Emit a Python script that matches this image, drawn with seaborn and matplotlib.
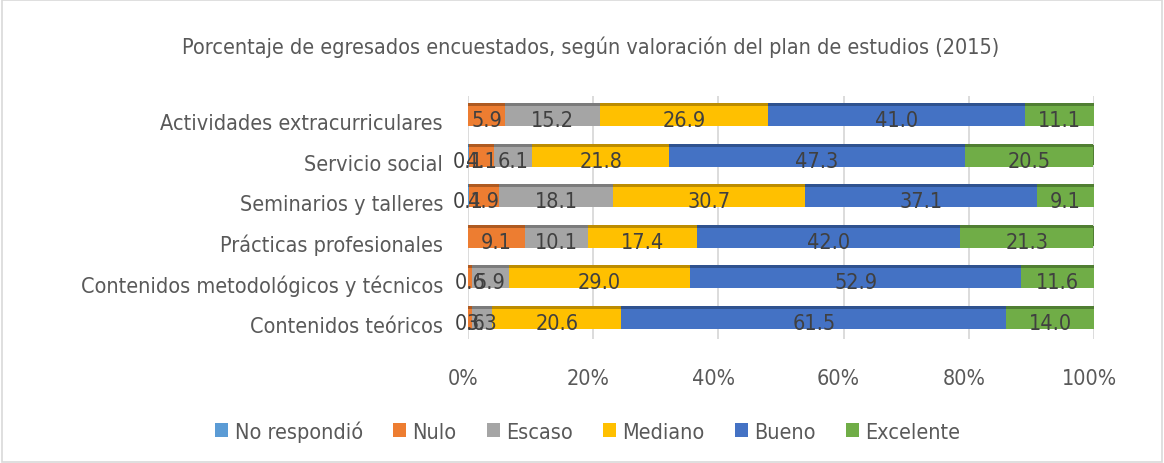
import numpy as np
import pandas as pd
import matplotlib
matplotlib.use("Agg")
import matplotlib.pyplot as plt
import seaborn as sns
from matplotlib import font_manager
from matplotlib.patches import Patch
from matplotlib.transforms import ScaledTranslation

categories = ["Actividades extracurriculares", "Servicio social", "Seminarios y talleres",
              "Prácticas profesionales", "Contenidos metodológicos y técnicos", "Contenidos teóricos"]
series_names = ["No respondió", "Nulo", "Escaso", "Mediano", "Bueno", "Excelente"]
no_respondio = [0.0, 0.1, 0.1, 0.0, 0.0, 0.0]
nulo = [5.9, 4.1, 4.9, 9.1, 0.6, 0.6]
escaso = [15.2, 6.1, 18.1, 10.1, 5.9, 3.3]
mediano = [26.9, 21.8, 30.7, 17.4, 29.0, 20.6]
bueno = [41.0, 47.3, 37.1, 42.0, 52.9, 61.5]
excelente = [11.1, 20.5, 9.1, 21.3, 11.6, 14.0]
colors = ["#5B9BD5", "#ED7D31", "#A5A5A5", "#FFC000", "#4472C4", "#70AD47"]
dark_colors = ["#41719C", "#AE5A21", "#7B7B7B", "#BC8C00", "#2F528F", "#507E32"]
xticks = [0, 20, 40, 60, 80, 100]
xtick_labels = ["0%", "20%", "40%", "60%", "80%", "100%"]
title = "Porcentaje de egresados encuestados, según valoración del plan de estudios (2015)"

sns.set_theme(style="white")

# look for a narrow/condensed sans font
fprop = None
fs = 15.5
for f in font_manager.fontManager.ttflist:
    fn = f.fname.lower()
    if ("narrow" in fn and "liberation" in fn and "bold" not in fn and "italic" not in fn):
        fprop = font_manager.FontProperties(fname=f.fname)
        fs = 17
        break
if fprop is None:
    for f in font_manager.fontManager.ttflist:
        fn = f.fname.lower()
        if ("condensed" in fn and "bold" not in fn and "oblique" not in fn
                and "italic" not in fn and ("roboto" in fn or "dejavusans" in fn)):
            fprop = font_manager.FontProperties(fname=f.fname)
            fs = 15.5
            break
if fprop is None:
    fprop = font_manager.FontProperties(family="Liberation Sans")
    fs = 15.5
plt.rcParams["font.family"] = [fprop.get_name(), "DejaVu Sans"]

series = [no_respondio, nulo, escaso, mediano, bueno, excelente]
vals = np.array(series)
cum = np.cumsum(vals, axis=0)
left = cum - vals

fig = plt.figure(figsize=(11.64, 4.64), dpi=100)
ax = fig.add_axes([468 / 1164, 1 - 340 / 464, (1094 - 468) / 1164, (340 - 97) / 464])

for i in reversed(range(len(series))):
    df = pd.DataFrame({"cat": categories, "val": cum[i]})
    sns.barplot(data=df, x="val", y="cat", orient="h", color=colors[i], width=0.5,
                saturation=1, ax=ax, zorder=2, linewidth=0)

ypos = np.arange(len(categories))
for i in range(len(series)):
    ax.barh(ypos - 0.25 - 0.035, vals[i], left=left[i], height=0.07,
            color=dark_colors[i], linewidth=0, zorder=3)
ax.barh(ypos - 0.035, 0.6, left=cum[-1], height=0.5, color=dark_colors[-1], linewidth=0, zorder=3)

for i in range(len(series)):
    for j in range(len(categories)):
        v = vals[i, j]
        if v > 0:
            ax.text(left[i, j] + v / 2, j + 0.1, f"{v:.1f}", ha="center", va="center",
                    fontproperties=fprop, fontsize=fs, color="#404040", zorder=5)

ax.set_xlim(0, 100)
ax.set_ylim(len(categories) - 0.5, -0.5)
ax.set_xticks(xticks)
ax.set_xticklabels(xtick_labels, fontproperties=fprop, fontsize=fs)
ax.set_yticks(ypos)
ax.set_yticklabels(categories, fontproperties=fprop, fontsize=fs)
ax.set_xlabel("")
ax.set_ylabel("")
ax.tick_params(axis="x", length=0, pad=21, labelcolor="#595959")
ax.tick_params(axis="y", length=0, pad=18, labelcolor="#595959")
shift_down = ScaledTranslation(0, -5 / 100, fig.dpi_scale_trans)
for lab in ax.get_yticklabels():
    lab.set_transform(lab.get_transform() + shift_down)
shift_left = ScaledTranslation(-5 / 100, 0, fig.dpi_scale_trans)
for lab in ax.get_xticklabels():
    lab.set_transform(lab.get_transform() + shift_left)
ax.xaxis.grid(True, color="#D9D9D9", linewidth=1.3, zorder=0)
ax.set_axisbelow(True)
for s in ax.spines.values():
    s.set_visible(False)

fig.text(0.507, 1 - 47 / 464, title, ha="center", va="center", fontproperties=fprop,
         fontsize=fs, color="#595959")

handles = [Patch(facecolor=c, edgecolor="none") for c in colors]
leg_prop = fprop.copy()
leg_prop.set_size(fs)
fig.legend(handles, series_names, loc="center", bbox_to_anchor=(0.505, 1 - 432 / 464), ncol=6,
           frameon=False, prop=leg_prop, labelcolor="#595959", handlelength=0.6, handleheight=0.6,
           handletextpad=0.3, columnspacing=1.4)

border = plt.Rectangle((0.002, 0.003), 0.996, 0.994, transform=fig.transFigure, fill=False,
                       edgecolor="#D9D9D9", linewidth=1.2)
fig.patches.append(border)

fig.savefig("out.png", dpi=100, facecolor="white")
